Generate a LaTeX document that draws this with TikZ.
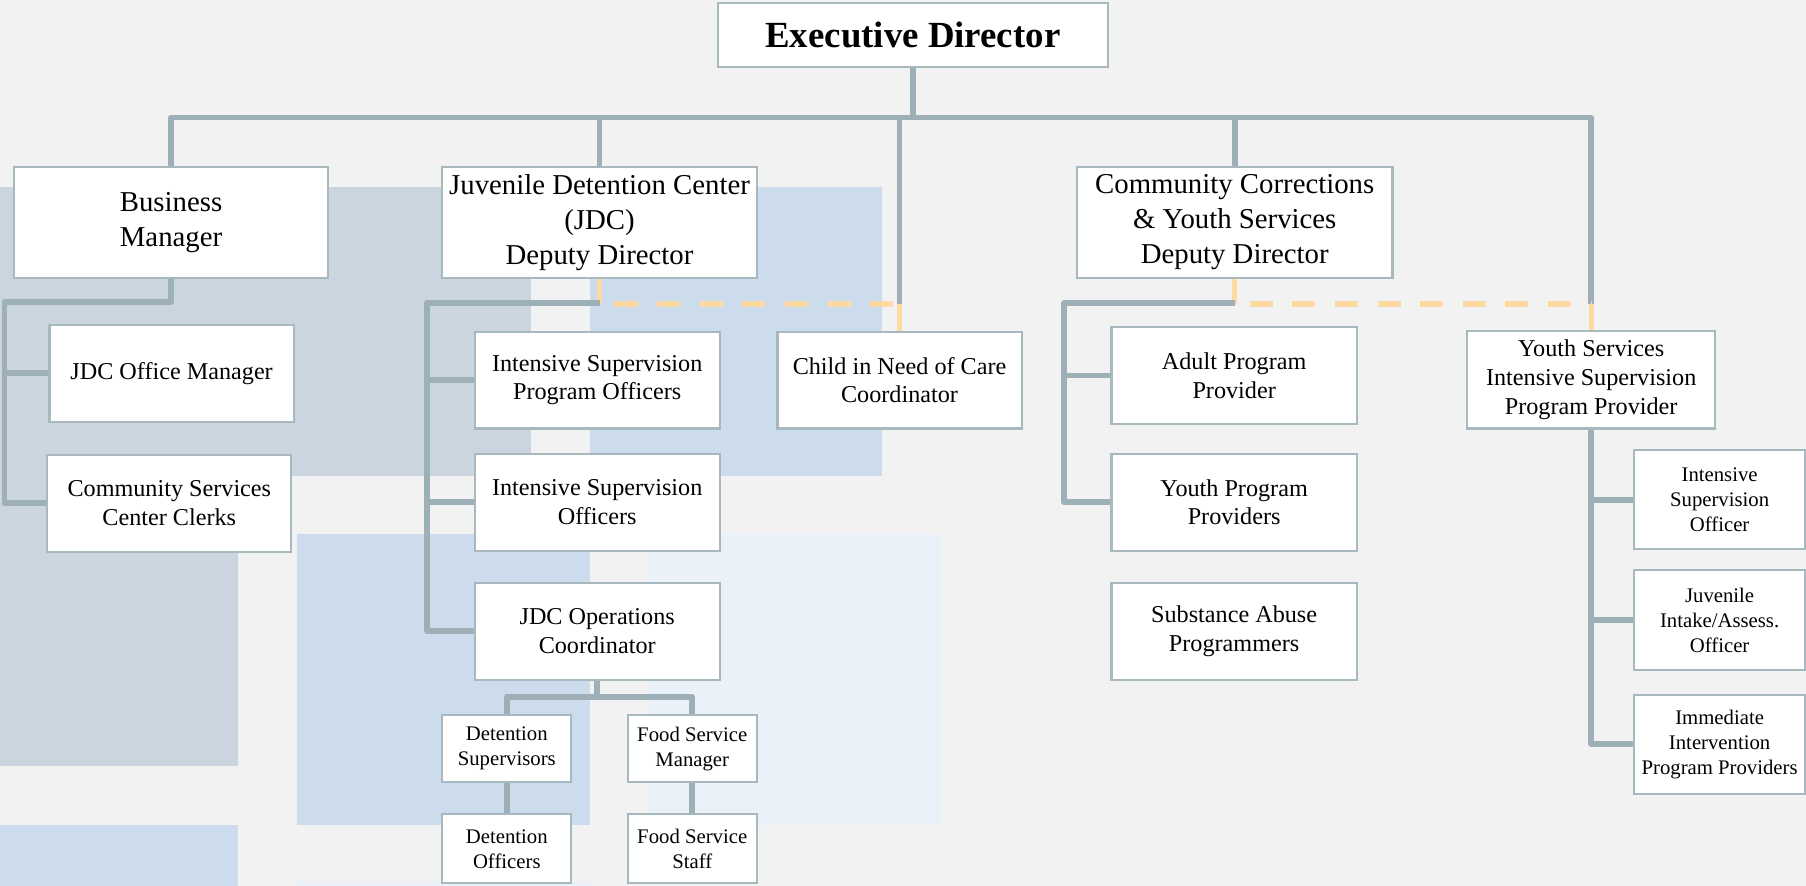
\documentclass[tikz,border=0pt]{standalone}
\usepackage{fontspec}
\setmainfont{Liberation Serif}
\definecolor{bgpage}{RGB}{242,242,242}
\definecolor{greyblue}{RGB}{203,213,223}
\definecolor{paleblue}{RGB}{204,220,236}
\definecolor{lightblue}{RGB}{234,241,249}
\definecolor{trunkline}{RGB}{158,176,183}
\definecolor{boxline}{RGB}{168,184,191}
\definecolor{linkorange}{RGB}{252,218,162}
\begin{document}
\begin{tikzpicture}[x=1pt,y=-1pt,
  box/.style={draw=boxline,line width=1.8pt,fill=white,inner sep=2pt,align=center},
  top/.style={font=\fontsize{32}{38}\selectfont\bfseries},
  big/.style={font=\fontsize{25}{30.5}\selectfont},
  mid/.style={font=\fontsize{21}{25}\selectfont},
  small/.style={font=\fontsize{18}{21.7}\selectfont},
  trunk/.style={draw=trunkline,line width=5pt,line join=round},
  link/.style={draw=linkorange,line width=4.5pt},
  dashlink/.style={link,dash pattern=on 20pt off 17pt,dash phase=24pt}]
\useasboundingbox (0,0) rectangle (1568,769);
\fill[bgpage] (0,0) rectangle (1568,769);
% background panels
\fill[greyblue] (0,162) rectangle (461,413);
\fill[greyblue] (0,413) rectangle (207,665);
\fill[paleblue] (512,162) rectangle (766,413);
\fill[paleblue] (258,464) rectangle (512,716);
\fill[lightblue] (563,464) rectangle (817,716);
\fill[paleblue] (0,716) rectangle (207,769);
\fill[lightblue] (258,766) rectangle (512,769);

\coordinate (bar) at (792.5,102);
\coordinate (dashline) at (0,264);
\coordinate (bmspine) at (4,262);
\coordinate (jdcspine) at (371,263);
\coordinate (ccspine) at (924,263);
\coordinate (opsbar) at (518.5,605);

% top levels
\node[box,top,minimum width=339pt,minimum height=55pt] (exec) at (792.5,30.5) {Executive Director};
\node[box,big,minimum width=273pt,minimum height=96pt] (bm) at (148.5,193) {Business\\Manager};
\node[box,big,minimum width=273pt,minimum height=96pt] (jdc) at (520.5,193) {Juvenile Detention Center\\(JDC)\\Deputy Director};
\node[box,big,minimum width=274pt,minimum height=96pt] (cc) at (1072,193) {Community Corrections\\\& Youth Services\\Deputy Director};

% business manager
\node[box,mid,minimum width=212pt,minimum height=84pt] (ofm) at (149,324) {JDC Office Manager};
\node[box,mid,minimum width=212pt,minimum height=84pt] (csc) at (147,437) {Community Services\\Center Clerks};

% jdc
\node[box,mid,minimum width=213pt,minimum height=84pt] (ispo) at (518.5,330) {Intensive Supervision\\Program Officers};
\node[box,mid,minimum width=213pt,minimum height=84pt] (iso) at (518.5,436) {Intensive Supervision\\Officers};
\node[box,mid,minimum width=213pt,minimum height=84pt] (ops) at (518.5,548) {JDC Operations\\Coordinator};
\node[box,mid,minimum width=212pt,minimum height=84pt] (chins) at (781,330) {Child in Need of Care\\Coordinator};
\node[box,small,minimum width=112pt,minimum height=58pt] (dsup) at (440,650) {Detention\\Supervisors};
\node[box,small,minimum width=112pt,minimum height=58pt] (fsm) at (601,650) {Food Service\\Manager};
\node[box,small,minimum width=112pt,minimum height=60pt] (doff) at (440,737) {Detention\\Officers};
\node[box,small,minimum width=112pt,minimum height=60pt] (fss) at (601,737) {Food Service\\Staff};

% community corrections
\node[box,mid,minimum width=213pt,minimum height=84pt] (adult) at (1071.5,326) {Adult Program\\Provider};
\node[box,mid,minimum width=213pt,minimum height=84pt] (youth) at (1071.5,436) {Youth Program\\Providers};
\node[box,mid,minimum width=213pt,minimum height=84pt] (subst) at (1071.5,548) {Substance Abuse\\Programmers};
\node[box,mid,minimum width=215pt,minimum height=85pt] (ysp) at (1381.5,329.5) {Youth Services\\Intensive Supervision\\Program Provider};
\node[box,small,minimum width=148pt,minimum height=86pt] (riso) at (1493,434) {Intensive\\Supervision\\Officer};
\node[box,small,minimum width=148pt,minimum height=87pt] (rjia) at (1493,538.5) {Juvenile\\Intake/Assess.\\Officer};
\node[box,small,minimum width=148pt,minimum height=86pt] (riip) at (1493,646) {Immediate\\Intervention\\Program Providers};

% connectors
\draw[trunk] (exec.south) -- (bar);
\draw[trunk] (bm.north) |- (bar);
\draw[trunk] (bar) -| (ysp.north |- dashline);
\draw[trunk] (jdc.north) -- (jdc.north |- bar);
\draw[trunk] (cc.north) -- (cc.north |- bar);
\draw[trunk] (chins.north |- bar) -- (chins.north |- dashline);
\draw[link] (chins.north |- dashline) -- (chins.north);
\draw[link] (ysp.north |- dashline) -- (ysp.north);

\draw[trunk] (bm.south) |- (bmspine) |- (csc.west);
\draw[trunk] (bmspine |- ofm.west) -- (ofm.west);

\draw[link] (jdc.south) -- (jdc.south |- dashline);
\draw[dashlink] (jdc.south |- dashline) -- (chins.north |- dashline);
\draw[trunk] (jdc.south |- jdcspine) -- (jdcspine) |- (ops.west);
\draw[trunk] (jdcspine |- ispo.west) -- (ispo.west);
\draw[trunk] (jdcspine |- iso.west) -- (iso.west);
\draw[trunk] (ops.south) -- (opsbar);
\draw[trunk] (dsup.north) |- (opsbar) -| (fsm.north);
\draw[trunk] (dsup) -- (doff);
\draw[trunk] (fsm) -- (fss);

\draw[link] (cc.south) -- (cc.south |- dashline);
\draw[dashlink] (cc.south |- dashline) -- (ysp.north |- dashline);
\draw[trunk] (cc.south |- ccspine) -- (ccspine) |- (youth.west);
\draw[trunk] (ccspine |- adult.west) -- (adult.west);

\draw[trunk] (ysp.south) |- (riip.west);
\draw[trunk] (ysp.south |- riso.west) -- (riso.west);
\draw[trunk] (ysp.south |- rjia.west) -- (rjia.west);
\end{tikzpicture}
\end{document}
